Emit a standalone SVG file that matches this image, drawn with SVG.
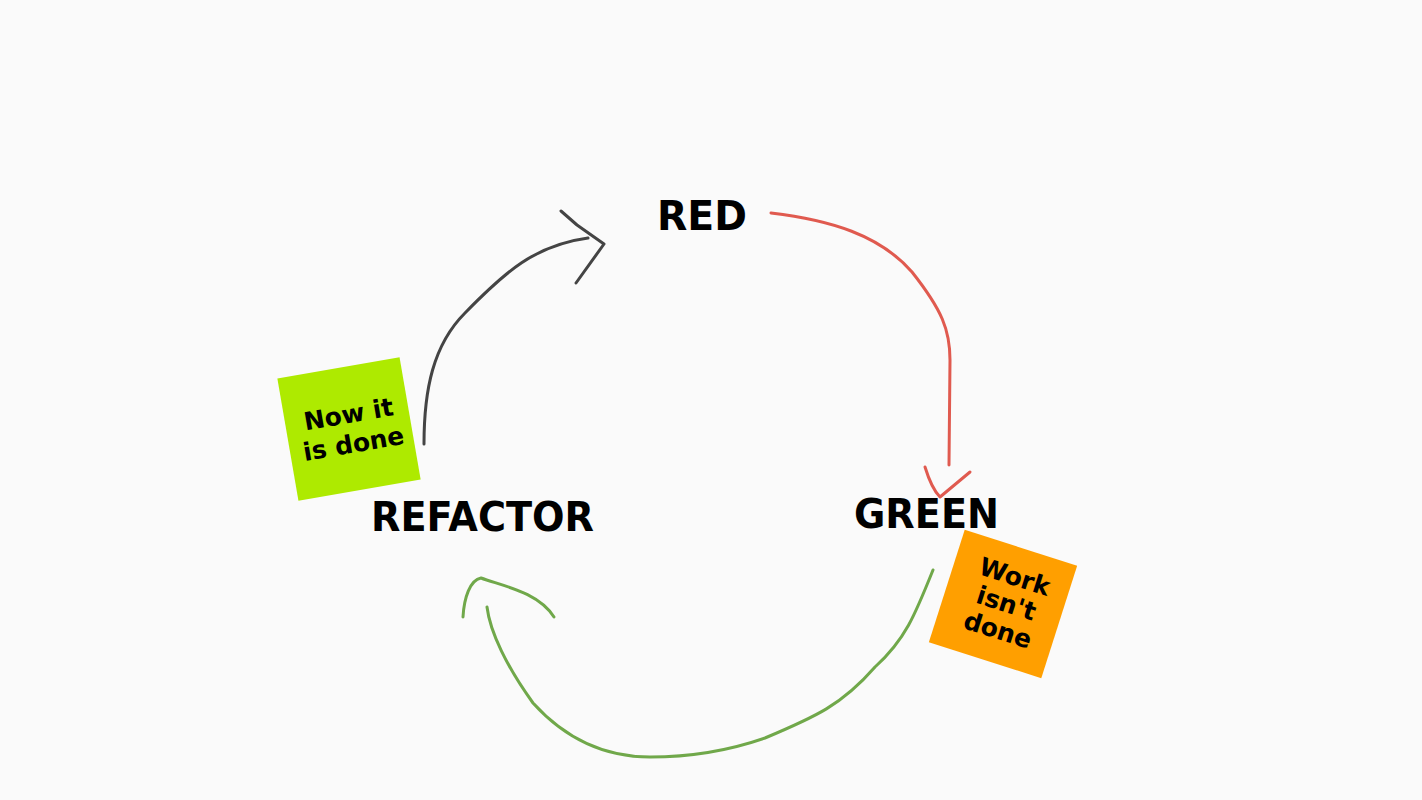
<svg xmlns="http://www.w3.org/2000/svg" width="1422" height="800" viewBox="0 0 1422 800">
<style>
.lbl{font-family:"DejaVu Sans","Liberation Sans",sans-serif;font-weight:bold;fill:#000;font-size:40px}
.note{font-family:"DejaVu Sans","Liberation Sans",sans-serif;font-weight:bold;fill:#000;font-size:25px;text-anchor:middle}
.ln{fill:none;stroke-width:3;stroke-linecap:round;stroke-linejoin:round}
</style>
<rect width="1422" height="800" fill="#fafafa"/>
<g id="connectors">
<path class="ln" stroke="#e05a4f" d="M771,213 C830,220 880,235 912,272 C942,310 950,330 950,360 L949,465"/>
<path class="ln" stroke="#e05a4f" d="M925,467 C929,480 933,490 940,497 L970,472"/>
<path class="ln" stroke="#444" d="M424,444 C424,390 433,345 465,313 C505,272 535,245 588,238"/>
<path class="ln" stroke="#444" d="M561,211 L577,225 L604,244 L576,283"/>
<path class="ln" stroke="#70a84a" stroke-width="3.5" d="M933,570 C915,615 905,640 875,667 C842,705 815,717 765,738 C725,752 690,757 650,757 C600,757 562,735 533,703 C507,667 490,632 487,607"/>
<path class="ln" stroke="#70a84a" d="M463,617 C464,598 470,580 481,578 C503,586 538,592 554,617"/>
</g>
<g id="red"><text class="lbl" x="657" y="230" textLength="90" lengthAdjust="spacingAndGlyphs">RED</text></g>
<g id="green"><text class="lbl" x="854" y="528" textLength="145" lengthAdjust="spacingAndGlyphs">GREEN</text></g>
<g id="refactor"><text class="lbl" x="371" y="531" textLength="223" lengthAdjust="spacingAndGlyphs">REFACTOR</text></g>
<g id="note-done" transform="translate(349,429) rotate(-9.8)">
<rect x="-62" y="-62" width="124" height="124" fill="#aeea00"/>
<text class="note" x="2" y="-6">Now it</text>
<text class="note" x="2" y="24">is done</text>
</g>
<g id="note-work" transform="translate(1003,604) rotate(17.7)">
<rect x="-59" y="-59" width="118" height="118" fill="#ff9f00"/>
<text class="note" x="3" y="-21">Work</text>
<text class="note" x="3" y="7">isn't</text>
<text class="note" x="3" y="35">done</text>
</g>
</svg>
